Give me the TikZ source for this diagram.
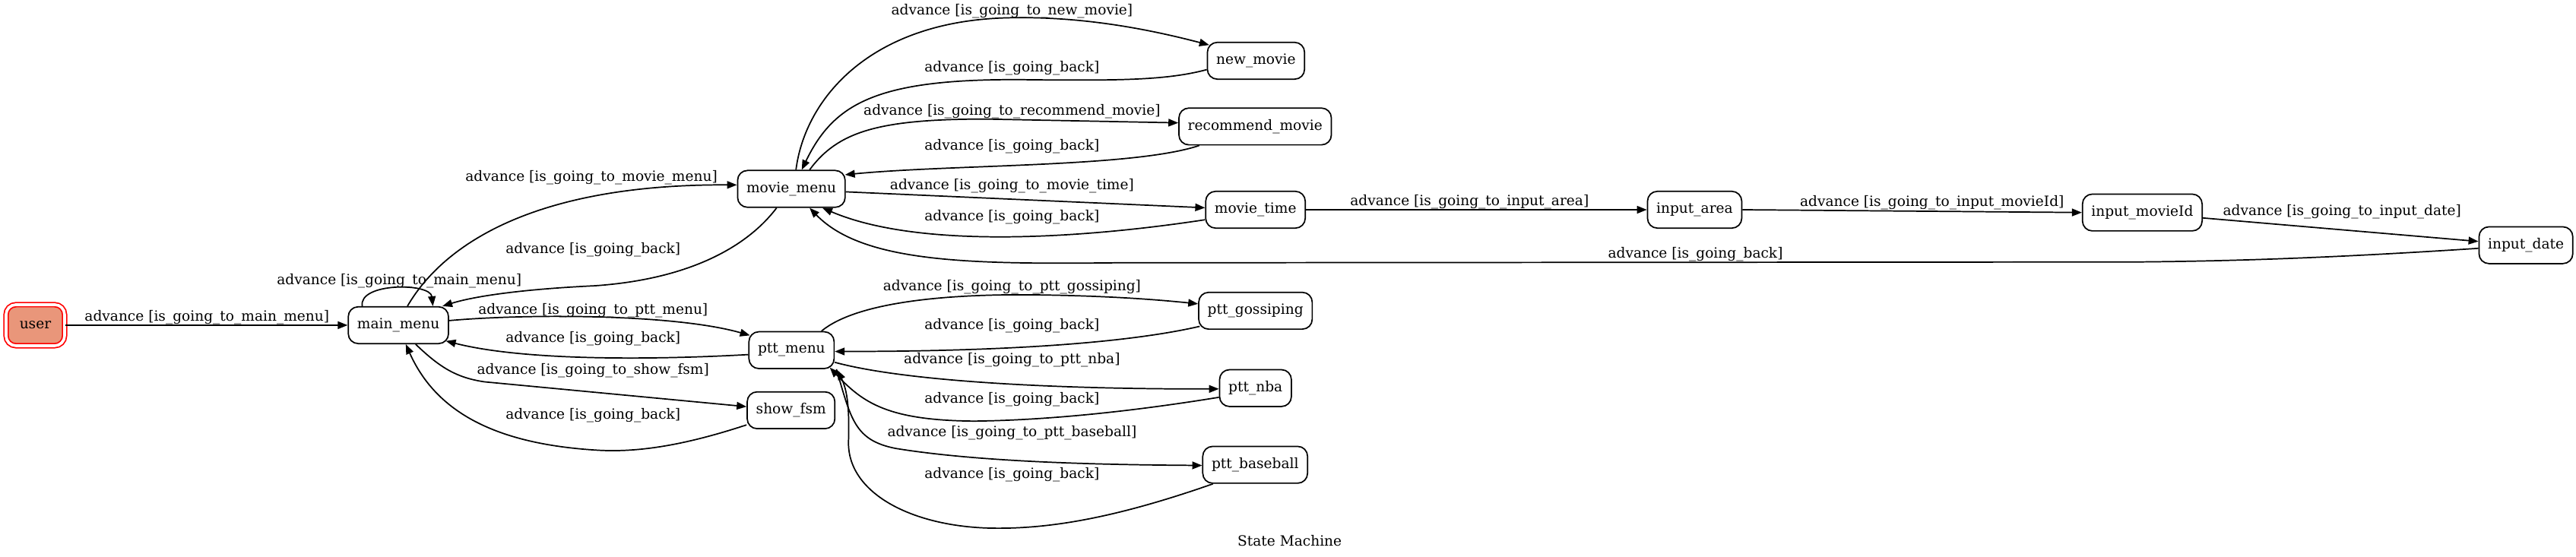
\documentclass[tikz,border=0pt]{standalone}
\usepackage{fontspec}
\setmainfont{DejaVu Serif}
\usetikzlibrary{arrows.meta}
\definecolor{usersalmon}{RGB}{233,150,122}
\begin{document}
\begin{tikzpicture}[x=1pt, y=-1pt, font=\fontsize{8.6}{10}\selectfont,
  state/.style={draw, rounded corners=6pt, minimum height=22.4pt, inner xsep=5.4pt, inner ysep=0pt, line width=0.8pt},
  lbl/.style={inner sep=0pt},
  edge/.style={draw, line width=0.8pt, -{Triangle[length=6pt,width=4.6pt]}}]
\useasboundingbox (0,0) rectangle (1568,339);
\node[state, draw=red, double=white, double distance=1.7pt, fill=usersalmon, minimum width=35.6pt, minimum height=25pt] (user) at (21.5,198){user};
\node[state] (mainmenu) at (242.5,198){main\_menu};
\node[state] (moviemenu) at (481.7,115){movie\_menu};
\node[state] (newmovie) at (764.5,37){new\_movie};
\node[state] (recmovie) at (764,77){recommend\_movie};
\node[state] (movietime) at (764.2,127.7){movie\_time};
\node[state] (inputarea) at (1031.5,127.7){input\_area};
\node[state] (inputmovieid) at (1304,129.4){input\_movieId};
\node[state] (inputdate) at (1537.5,149.3){input\_date};
\node[state] (pttmenu) at (481.8,213.2){ptt\_menu};
\node[state] (showfsm) at (481.5,249.8){show\_fsm};
\node[state] (pttgossip) at (764.2,189.2){ptt\_gossiping};
\node[state] (pttnba) at (764.2,236.3){ptt\_nba};
\node[state] (pttbaseball) at (764,283){ptt\_baseball};
\node[lbl] (title) at (785,329){State Machine};
\draw[edge] (user.east) -- (mainmenu.west);
\node[lbl] (l1) at (126,193){advance [is\_going\_to\_main\_menu]};
\draw[edge] ([xshift=-22pt]mainmenu.north) .. controls (218,172) and (262,172) .. ([xshift=21pt]mainmenu.north);
\node[lbl] (l2) at (243,171){advance [is\_going\_to\_main\_menu]};
\draw[edge] ([xshift=5.5pt]mainmenu.north) .. controls (268,152) and (320,112) .. ([yshift=2.4pt]moviemenu.west);
\node[lbl] (l3) at (360,108){advance [is\_going\_to\_movie\_menu]};
\draw[edge] ([xshift=-9pt]moviemenu.south) .. controls (455,150) and (420,170) .. (362,174) .. controls (320,176) and (290,180) .. ([xshift=26.8pt]mainmenu.north);
\node[lbl] (l4) at (361,152){advance [is\_going\_back]};
\draw[edge] ([yshift=2.8pt]mainmenu.east) .. controls (320,191) and (410,191) .. ([xshift=1pt,yshift=9pt]pttmenu.west);
\node[lbl] (l5) at (361,189){advance [is\_going\_to\_ptt\_menu]};
\draw[edge] ([yshift=-2.7pt]pttmenu.west) .. controls (400,219) and (320,220) .. ([xshift=-2pt,yshift=2pt]mainmenu.south east);
\node[lbl] (l6) at (361,206.4){advance [is\_going\_back]};
\draw[edge] ([xshift=10.5pt]mainmenu.south) .. controls (268,224) and (278,230) .. (295,232.5) -- ([yshift=2.2pt]showfsm.west);
\node[lbl] (l7) at (361,225.4){advance [is\_going\_to\_show\_fsm]};
\draw[edge] ([yshift=-8.9pt]showfsm.west) .. controls (420,270) and (390,276) .. (362,274) .. controls (300,270) and (265,250) .. ([xshift=4.5pt]mainmenu.south);
\node[lbl] (l8) at (361,252.7){advance [is\_going\_back]};
\draw[edge] ([xshift=2.8pt]moviemenu.north) .. controls (490,60) and (530,12) .. (615.7,10.8) .. controls (660,10) and (700,18) .. ([xshift=1.5pt,yshift=-2pt]newmovie.north west);
\node[lbl] (l9) at (616,7){advance [is\_going\_to\_new\_movie]};
\draw[edge] ([yshift=-5.4pt]newmovie.west) .. controls (710,49) and (680,49) .. (630,48.6) .. controls (535,47) and (508,62) .. ([xshift=6.3pt]moviemenu.north);
\node[lbl] (l10) at (616,41.6){advance [is\_going\_back]};
\draw[edge] ([xshift=11.1pt]moviemenu.north) .. controls (510,80) and (535,72.5) .. (600,72.5) -- ([yshift=2.2pt]recmovie.west);
\node[lbl] (l11) at (616,68){advance [is\_going\_to\_recommend\_movie]};
\draw[edge] ([xshift=-34pt]recmovie.south) .. controls (690,102) and (580,100) .. ([xshift=-0.5pt,yshift=-3pt]moviemenu.north east);
\node[lbl] (l12) at (616,89){advance [is\_going\_back]};
\draw[edge] ([yshift=-1.8pt]moviemenu.east) -- ([yshift=1.2pt]movietime.west);
\node[lbl] (l13) at (616,113){advance [is\_going\_to\_movie\_time]};
\draw[edge] ([yshift=-6.1pt]movietime.west) .. controls (660,145) and (560,152) .. ([xshift=18.9pt]moviemenu.south);
\node[lbl] (l14) at (616,132){advance [is\_going\_back]};
\draw[edge] (movietime.east) -- (inputarea.west);
\node[lbl] (l15) at (894.5,123){advance [is\_going\_to\_input\_area]};
\draw[edge] (inputarea.east) -- (inputmovieid.west);
\node[lbl] (l16) at (1176,123.4){advance [is\_going\_to\_input\_movieId]};
\draw[edge] ([yshift=-3.3pt]inputmovieid.east) -- ([yshift=2.3pt]inputdate.west);
\node[lbl] (l17) at (1425.6,128.8){advance [is\_going\_to\_input\_date]};
\draw[edge] ([yshift=-1.9pt]inputdate.west) .. controls (1420,157) and (1360,159) .. (1300,159.5) -- (680,160) .. controls (590,161) and (525,160) .. ([xshift=11.1pt]moviemenu.south);
\node[lbl] (l18) at (1032,155){advance [is\_going\_back]};
\draw[edge] ([xshift=18.2pt]pttmenu.north) .. controls (520,185) and (570,179) .. (628,179.5) .. controls (670,180) and (700,182) .. ([yshift=4.2pt]pttgossip.west);
\node[lbl] (l19) at (616,174.6){advance [is\_going\_to\_ptt\_gossiping]};
\draw[edge] ([xshift=1pt,yshift=-9.5pt]pttgossip.west) .. controls (690,208) and (620,214) .. ([yshift=-0.8pt]pttmenu.east);
\node[lbl] (l20) at (616,198.5){advance [is\_going\_back]};
\draw[edge] ([yshift=-7.4pt]pttmenu.east) .. controls (550,232) and (640,237) .. ([yshift=-0.5pt]pttnba.west);
\node[lbl] (l21) at (616,219){advance [is\_going\_to\_ptt\_nba]};
\draw[edge] ([yshift=-5.6pt]pttnba.west) .. controls (680,252) and (630,256) .. (593,256.4) .. controls (540,256) and (525,245) .. ([xshift=-3pt,yshift=1pt]pttmenu.south east);
\node[lbl] (l22) at (616,243){advance [is\_going\_back]};
\draw[edge] ([xshift=1pt]pttmenu.south east) .. controls (518,255) and (520,268) .. (545,273) .. controls (600,282) and (680,283) .. ([yshift=-0.4pt]pttbaseball.west);
\node[lbl] (l23) at (616,263.5){advance [is\_going\_to\_ptt\_baseball]};
\draw[edge] ([xshift=-25.7pt]pttbaseball.south) .. controls (680,315) and (640,322) .. (605,321.6) .. controls (555,321) and (515,300) .. (516.5,268) .. controls (517,250) and (516,238) .. ([xshift=1.5pt,yshift=-0.5pt]pttmenu.south east);
\node[lbl] (l24) at (616,289.2){advance [is\_going\_back]};
\end{tikzpicture}
\end{document}
